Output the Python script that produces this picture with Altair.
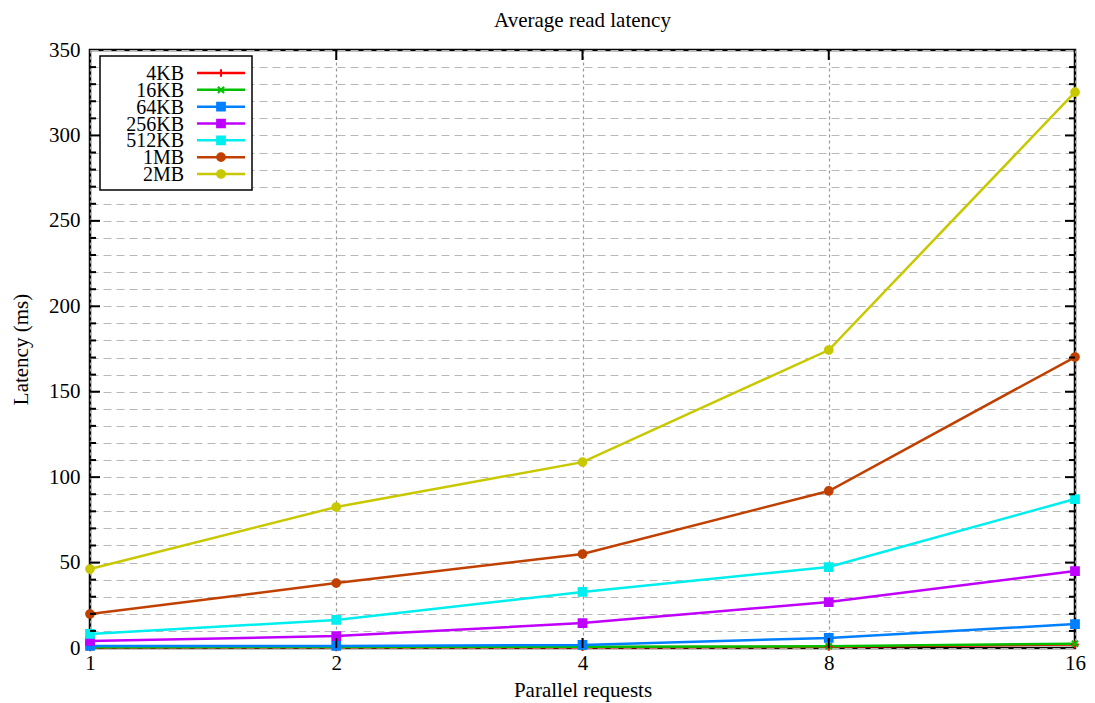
import altair as alt
import pandas as pd

# ---- data ----
parallel = [1, 2, 4, 8, 16]
series_names = ["4KB", "16KB", "64KB", "256KB", "512KB", "1MB", "2MB"]
lat_4KB = [0.3, 0.4, 0.5, 0.7, 2.0]
lat_16KB = [0.5, 0.6, 0.8, 1.0, 2.5]
lat_64KB = [1.2, 1.2, 1.8, 5.9, 14.0]
lat_256KB = [4.1, 7.0, 14.6, 26.9, 45.0]
lat_512KB = [8.2, 16.4, 32.8, 47.4, 87.2]
lat_1MB = [19.9, 38.0, 55.0, 91.9, 170.3]
lat_2MB = [46.2, 82.5, 108.8, 174.4, 325.3]
colors = ["#ff0000", "#00c000", "#0080ff", "#c000ff", "#00eeee", "#c04000", "#c8c800"]

PLUS = "M-1,0L1,0M0,-1L0,1"
XMARK = "M-0.8,-0.8L0.8,0.8M-0.8,0.8L0.8,-0.8"
shapes = [PLUS, XMARK, "square", "square", "square", "circle", "circle"]

all_series = [lat_4KB, lat_16KB, lat_64KB, lat_256KB, lat_512KB, lat_1MB, lat_2MB]
rows = []
for name, vals in zip(series_names, all_series):
    for p, v in zip(parallel, vals):
        rows.append({"series": name, "parallel": p, "latency": v})
df = pd.DataFrame(rows)

legend_df = pd.DataFrame({"series": series_names, "idx": list(range(len(series_names)))})

W, H = 985, 598
FONT = "Liberation Serif"

color_scale = alt.Scale(domain=series_names, range=colors)
shape_scale = alt.Scale(domain=series_names, range=shapes)

xs = alt.Scale(type="log", base=2, domain=[1, 16], nice=False)
ys = alt.Scale(domain=[0, 350], nice=False, zero=True)

x_axis = alt.Axis(values=parallel, format="d", grid=True, gridDash=[3, 3],
                  gridColor="#999999", gridWidth=1.2, ticks=False,
                  labelFlush=False, labelPadding=4, titlePadding=6,
                  domain=False)
y_axis = alt.Axis(values=list(range(0, 351, 10)),
                  labelExpr="datum.value % 50 == 0 ? datum.label : ''",
                  grid=True, gridDash=[8, 5], gridColor="#b8b8b8",
                  gridWidth=1, ticks=False, labelPadding=10,
                  titlePadding=17, domain=False)
XT = "Parallel requests"
YT = "Latency (ms)"

def xq(field):
    return alt.X(field, scale=xs, title=XT, axis=x_axis)

def yq(field):
    return alt.Y(field, scale=ys, title=YT, axis=y_axis)

base = alt.Chart(df)
lines = base.mark_line(strokeWidth=2.5).encode(
    x=xq("parallel:Q"), y=yq("latency:Q"),
    color=alt.Color("series:N", scale=color_scale, legend=None),
    detail="series:N",
    order=alt.Order("parallel:Q"),
)
points = base.mark_point(size=60, strokeWidth=2, opacity=1).encode(
    x=xq("parallel:Q"), y=yq("latency:Q"),
    shape=alt.Shape("series:N", scale=shape_scale, legend=None),
    fill=alt.Fill("series:N", scale=color_scale, legend=None),
    stroke=alt.Stroke("series:N", scale=color_scale, legend=None),
)

# inward ticks
minor_vals = pd.DataFrame({"v": [v for v in range(10, 350, 10) if v % 50 != 0]})
major_vals = pd.DataFrame({"v": list(range(50, 350, 50))})
minor_l = alt.Chart(minor_vals).mark_rule(color="black", strokeWidth=2).encode(
    y=yq("v:Q"), x=alt.value(0), x2=alt.value(6))
minor_r = alt.Chart(minor_vals).mark_rule(color="black", strokeWidth=2).encode(
    y=yq("v:Q"), x=alt.value(W), x2=alt.value(W - 6))
major_l = alt.Chart(major_vals).mark_rule(color="black", strokeWidth=2).encode(
    y=yq("v:Q"), x=alt.value(0), x2=alt.value(10))
major_r = alt.Chart(major_vals).mark_rule(color="black", strokeWidth=2).encode(
    y=yq("v:Q"), x=alt.value(W), x2=alt.value(W - 10))
xt = pd.DataFrame({"p": parallel[1:-1]})
xtick_b = alt.Chart(xt).mark_rule(color="black", strokeWidth=2).encode(
    x=xq("p:Q"), y=alt.value(H), y2=alt.value(H - 10))
xtick_t = alt.Chart(xt).mark_rule(color="black", strokeWidth=2).encode(
    x=xq("p:Q"), y=alt.value(0), y2=alt.value(10))

main = alt.layer(lines, points, minor_l, minor_r, major_l, major_r, xtick_b, xtick_t)

# legend box
box = alt.Chart(pd.DataFrame({"a": [0]})).mark_rect(
    fill="white", stroke="black", strokeWidth=1.5).encode(
    x=alt.value(10), x2=alt.value(162), y=alt.value(6), y2=alt.value(140))
ly = alt.Y("idx:Q", scale=alt.Scale(domain=[0, 6], range=[23, 124]), axis=None)
leg = alt.Chart(legend_df)
leg_text = leg.mark_text(align="right", baseline="middle", font=FONT, fontSize=20,
                         color="black", dy=1).encode(
    x=alt.value(94), y=ly, text="series:N")
leg_line = leg.mark_rule(strokeWidth=2.5).encode(
    x=alt.value(107), x2=alt.value(155), y=ly,
    color=alt.Color("series:N", scale=color_scale, legend=None))
leg_pt = leg.mark_point(size=60, strokeWidth=2, opacity=1).encode(
    x=alt.value(131), y=ly,
    shape=alt.Shape("series:N", scale=shape_scale, legend=None),
    fill=alt.Fill("series:N", scale=color_scale, legend=None),
    stroke=alt.Stroke("series:N", scale=color_scale, legend=None))
legend = alt.layer(box, leg_line, leg_pt, leg_text)

chart = alt.layer(main, legend).resolve_scale(y="independent").properties(
    width=W, height=H,
    background="white",
    title=alt.Title("Average read latency", font=FONT, fontSize=21,
                    fontWeight="normal", offset=8, anchor="middle", color="black"),
    autosize=alt.AutoSizeParams(type="none"),
    padding={"left": 82, "top": 42, "right": 12, "bottom": 55},
).configure_view(stroke="black", strokeWidth=2.5).configure_axis(
    labelFont=FONT, titleFont=FONT, labelFontSize=21, titleFontSize=21,
    titleFontWeight="normal", labelColor="black", titleColor="black",
)

chart.save("out.html", embed_options={"renderer": "svg", "actions": False})
